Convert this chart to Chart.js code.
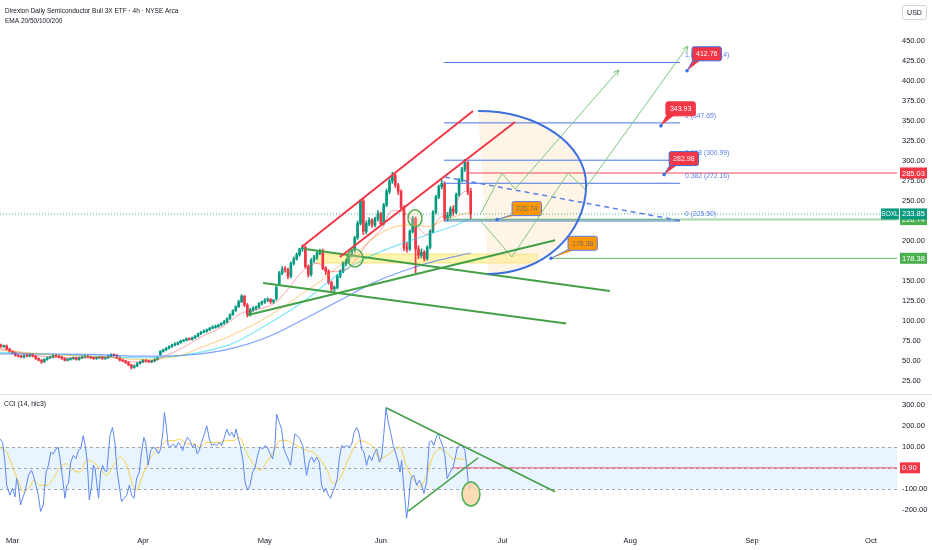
<!DOCTYPE html>
<html><head><meta charset="utf-8">
<script src="https://cdn.jsdelivr.net/npm/chart.js@4.4.1/dist/chart.umd.min.js"></script>
<style>
html,body{margin:0;padding:0;background:#fff;overflow:hidden}
#wrap{position:relative;width:932px;height:550px;background:#fff}
#c1{position:absolute;left:0;top:0}
#c2{position:absolute;left:0;top:394px}
</style></head><body>
<div id="wrap"><canvas id="c1" width="932" height="394"></canvas><canvas id="c2" width="932" height="156"></canvas></div>
<script>
// ---------------- DATA ----------------
const firstBar = -8; // bar index of first candle (2 bars per trading day, Mar 3 = 0)
const opens = [71,70,68,69,65,62,60,57,
 56,55,57,56,58,56,53,51, 49,52,54,55,57,56,55,53, 51,52,53,54,52,54,55,56, 55,54,53,54,55,53,54,56,
 58,57,54,51,50,48,45,42, 44,47,49,51,50,49,50,52, 58,62,64,66,68,70,71,73, 75,76,78,77,79,81,84,86,
 87,89,91,92,93,95,97,99, 103,108,113,118,124,131,120,108, 114,116,117,122,124,126,127,124,
 128,146,160,165,164,156,172,178, 183,190,192,168,158,176,180,185, 188,166,162,148,140,142,156,162,
 172,174,182,188,204,222,250,212, 222,226,220,228,234,222,245,262, 275,282,270,262,242,192,190,212,
 228,190,182,186,178,192,212,236, 255,268,272,228,232,240,236,258, 276,290,298,262];
const highs = [73,71,70,70,66,63,61,58,
 57,58,58,59,59,57,54,52, 53,55,56,58,58,57,56,54, 53,54,55,55,55,56,57,57, 56,55,55,56,56,55,57,59,
 59,58,55,52,51,49,46,45, 48,50,52,52,51,51,53,55, 63,65,67,69,71,73,74,76, 77,79,79,80,82,85,87,89,
 90,92,94,95,96,98,101,104, 109,114,119,126,133,132,122,116, 118,119,123,125,128,129,128,127,
 144,162,168,168,166,174,180,185, 191,195,194,170,178,182,187,190, 190,168,164,150,144,158,164,174,
 177,184,190,206,225,252,252,225, 229,228,230,238,236,247,265,278, 286,284,272,264,244,198,214,231,
 230,194,190,188,194,214,238,257, 270,276,274,236,243,244,260,278, 292,302,300,266];
const lows = [69,67,67,64,61,59,56,55,
 54,54,55,55,55,52,50,47, 48,51,53,54,55,54,52,50, 50,51,52,51,51,53,54,54, 53,52,52,53,52,52,53,55,
 56,53,50,49,47,44,40,41, 43,46,48,49,48,48,49,51, 57,61,63,65,67,69,70,72, 74,75,76,76,78,80,83,85,
 86,88,90,91,92,94,96,98, 102,107,112,117,123,118,105,106, 112,114,116,120,122,124,122,122,
 126,144,158,161,153,154,170,176, 181,187,166,155,156,173,177,183, 164,158,146,137,137,140,154,160,
 169,172,180,186,202,220,208,209, 219,217,218,225,219,220,243,259, 272,267,258,240,188,186,188,210,
 160,178,179,175,176,190,210,234, 253,265,225,225,229,232,234,256, 274,287,258,228];
const closes = [70,68,69,65,62,60,57,56,
 55,57,56,58,56,53,51,49, 52,54,55,57,56,55,53,51, 52,53,54,52,54,55,56,55, 54,53,54,55,53,54,56,58,
 57,54,51,50,48,45,42,44, 47,49,51,50,49,50,52,54, 62,64,66,68,70,71,73,75, 76,78,77,79,81,84,86,87,
 89,91,92,93,95,97,99,103, 108,113,118,124,131,120,108,114, 116,117,122,124,126,127,124,126,
 142,160,165,164,156,172,178,183, 190,192,168,158,176,180,185,188, 166,162,148,140,142,156,162,172,
 174,182,188,204,222,250,212,222, 226,220,228,234,222,245,262,275, 282,270,262,242,192,190,212,228,
 190,182,186,178,192,212,236,255, 268,272,228,232,240,236,258,276, 290,298,262,233.85];

const ema20 = [[-8,66],[0,60],[10,55],[20,54],[30,55],[38,49],[44,49],[50,57],[56,67],[62,80],[70,94],[76,110],[80,113],[88,124],[92,140],[97,162],[102,172],[107,162],[112,164],[116,180],[120,200],[124,214],[128,238],[132,236],[136,220],[140,208],[144,228],[148,236],[153,262],[155,256]];
const ema50 = [[-8,64],[10,58],[30,55],[40,52],[48,53],[56,58],[62,67],[70,78],[76,88],[82,99],[88,112],[96,132],[104,152],[110,170],[116,186],[122,205],[129,218],[135,220],[140,218],[147,228],[155,236]];
const ema100 = [[-8,61],[20,57],[40,54],[50,55],[62,61],[73,72],[85,96],[98,126],[110,160],[121,182],[133,199],[142,210],[150,220],[155,228]];
const ema200 = [[-8,59],[27,58],[39,56],[48,56],[62,59],[73,66],[85,80],[99,105],[110,126],[121,147],[133,164],[144,176],[155,185]];

const cci = [[-7.3,138],[-6.4,122],[-5.6,28],[-5.0,-82],[-3.9,-129],[-3.0,-97],[-2.1,-137],[-1.6,-50],[-1.0,-82],[-0.2,-176],[0.5,-144],[1.3,-113],[2.5,-35],[3.6,-11],[4.2,-35],[5.1,-82],[5.9,-129],[6.7,-207],[7.6,-176],[8.6,-19],[9.4,13],[10.2,75],[11.1,68],[12.0,91],[12.8,99],[13.4,44],[14.3,-50],[15.1,-144],[15.7,-82],[16.3,-74],[17.1,28],[18.0,60],[18.9,44],[19.7,83],[20.5,91],[21.4,154],[22.1,107],[22.8,28],[23.5,-152],[24.3,-82],[24.9,13],[25.5,-3],[26.0,-66],[26.7,-144],[27.4,-19],[28.1,13],[28.7,-11],[29.5,-19],[30.6,154],[31.5,193],[32.3,122],[33.1,-19],[33.8,-82],[34.6,-160],[35.5,-144],[36.4,-129],[37.3,-82],[38.1,-129],[38.9,-144],[39.8,-50],[40.7,-19],[41.5,75],[42.3,146],[43.0,115],[43.8,13],[44.6,83],[45.6,99],[46.5,91],[47.3,68],[48.1,91],[48.8,162],[49.4,264],[50.0,201],[50.7,107],[51.5,99],[52.5,115],[53.4,99],[54.2,122],[55.0,107],[55.7,83],[56.5,122],[57.3,146],[58.2,130],[59.1,99],[59.9,115],[60.7,68],[61.4,83],[62.2,122],[63.0,154],[64.0,201],[64.9,138],[65.7,107],[66.5,115],[67.4,107],[68.3,122],[69.1,107],[69.9,138],[70.9,185],[71.8,154],[72.6,170],[73.4,146],[74.1,185],[74.9,138],
[75.5,107],[76.4,44],[77.2,-66],[78.0,-105],[78.9,-82],[79.8,-19],[80.6,-3],[81.4,52],[82.3,99],[83.3,91],[84.1,107],[84.9,99],[85.8,68],[86.7,44],[87.5,107],[88.1,256],[89.0,217],[89.8,185],[90.6,91],[91.5,60],[92.5,28],[92.9,13],[93.6,91],[94.4,162],[95.2,154],[96.1,138],[97.1,107],[97.9,13],[98.4,-35],[99.4,36],[100.2,52],[101.0,28],[101.9,52],[102.8,28],[103.6,-82],[104.4,-113],[105.1,-97],[105.9,-129],[106.7,-144],[107.4,-113],[108.2,-90],[109.0,-50],[109.7,44],[110.5,107],[111.3,99],[112.2,107],[113.2,99],[114.0,115],[114.8,170],[115.7,193],[116.6,162],[117.4,91],[118.2,75],[119.1,13],[120.0,60],[120.9,36],[121.7,68],[122.6,91],[123.5,28],[124.3,52],[125.1,170],[125.8,287],[126.6,217],[127.4,170],[128.3,107],[129.2,68],[130.0,28],[130.6,-19],[131.2,36],[131.8,-66],[132.4,-160],[132.9,-239],[133.5,-176],[134.1,-82],[134.6,-42],[135.4,-35],[136.4,-82],[137.3,-58],[138.1,-82],[138.9,-121],[139.8,-66],[140.7,122],[141.5,130],[142.3,107],[143.3,154],[143.8,162],[144.4,138],[145.3,107],[146.1,60],[146.9,-50],[147.9,-19],[148.8,-3],[149.6,44],[150.4,99],[151.3,107],[152.2,107],[153.0,83],[153.6,13],[154.2,-74],[154.8,-97]];
const cciMa = [[-7.3,99],[-5.0,75],[-2.7,-3],[-0.4,-82],[0.7,-113],[3.0,-90],[4.2,-58],[6.5,-82],[8.8,-82],[11.1,-50],[13.4,5],[15.7,20],[18.0,-11],[20.3,-19],[22.6,36],[24.9,28],[27.2,-3],[29.5,-35],[31.8,13],[34.1,52],[36.4,13],[38.1,-66],[39.8,-105],[41.5,-50],[43.3,13],[45.6,68],[47.9,99],[50.2,130],[52.5,130],[54.8,138],[57.1,115],[59.4,115],[61.7,99],[64.0,122],[66.3,122],[68.5,122],[70.9,130],[73.1,130],[75.2,146],[77.7,75],[80.0,20],[82.3,-11],[84.6,28],[86.9,75],[89.2,130],[91.5,130],[93.8,115],[96.1,99],[98.4,83],[100.7,75],[103.0,44],[105.3,-3],[107.6,-74],[109.9,-50],[112.2,20],[114.5,91],[116.8,130],[119.1,122],[121.4,99],[123.7,44],[126.0,60],[128.3,83],[130.6,99],[132.9,5],[135.2,-50],[137.5,-90],[139.8,-35],[142.1,60],[144.4,91],[146.7,75],[149.0,44],[151.3,44],[153.6,36]];

const monthTickBars = [-3, 42, 84, 124, 166, 210, 252, 293];
const monthLabels = ['Mar','Apr','May','Jun','Jul','Aug','Sep','Oct'];
const priceTicks = [25,50,75,100,125,150,175,200,225,250,275,300,325,350,375,400,425,450];
const cciTicks = [-200,-100,100,200,300];
const xRange = [-7.3, 302];
const priceRange = [8.75, 501.25];
const cciRange = [-295, 347.6];

const lastPrice = 233.85;
const fibLevels = [0, 0.382, 0.618, 1, 1.618];
const fibPrices = [225.50, 272.16, 300.99, 347.65, 423.14];
const fibSpan = [145.8, 227.2];
const redChannelUpper = [[96.7,192.5],[155.8,362.5]];
const redChannelLower = [[109.9,180],[170.3,348.75]];
const greenTrendUpper = [[97.9,190],[203,137.5]];
const greenTrendLower = [[83.4,147.5],[187.9,96.8]];
const greenTrendRising = [[78.2,107.5],[184.1,201]];
const blueDashed = [[146.1,280],[227.2,225.4]];
const projectionA = [[158.2,232.5],[165.8,285],[170.3,265],[206.1,413.75]];
const projectionB = [[158.2,226.25],[169.2,180],[188.6,285],[194.4,265],[229.9,443.75]];
const arcTop = [157.55,362.5], arcRight = [194.8,270], arcBottom = [161.0,158.75];
const yellowBand = [102, 177.9, 172.5, 183.75];
const circleMarks = [[115.1,178.75],[135.8,228.4]];
const redLevel = [154, 285.03];
const greenLevelA = [147.2, 226.74];
const greenLevelB = [182.7, 178.38];
const calloutBars = [229.6, 220.6, 221.7, 164.1, 182.7];
const calloutPrices = [412.76, 343.93, 282.98, 226.74, 178.38];
const calloutTexts = ['412.76','343.93','282.98','226.74','178.38'];
const cciGreenUpper = [[125.8,287],[184.1,-113]];
const cciGreenLower = [[133.5,-205],[157.6,49]];
const cciRedLevel = [148.9, 0.90];
const cciCircle = [155.1, -124];

// ---------------- STYLE ----------------
const FONT = "'Liberation Sans', Arial, sans-serif";
const UP = '#089981', DOWN = '#f23645';
const calloutStyle = [
  {dx:5, dy:-24, bg:'#f23645', fg:'#ffffff', bd:'#3d6fe0'},
  {dx:5, dy:-24, bg:'#f23645', fg:'#ffffff', bd:'#f23645'},
  {dx:5, dy:-23, bg:'#f23645', fg:'#ffffff', bd:'#3d6fe0'},
  {dx:15, dy:-18, bg:'#ff9800', fg:'#6a6d78', bd:'#5b7fe6'},
  {dx:17, dy:-22, bg:'#ff9800', fg:'#6a6d78', bd:'#5b7fe6'}
];
const barX = closes.map((_, i) => firstBar + i);
const candleCol = closes.map((c, i) => c >= opens[i] ? UP : DOWN);

function X(c, b){ return c.scales.x.getPixelForValue(b); }
function Y(c, v){ return c.scales.y.getPixelForValue(v); }
function noPad(s){ s.paddingTop = 0; s.paddingBottom = 0; s.paddingLeft = 0; s.paddingRight = 0; }
function lineDs(points, color, width, dash, order){
  return {type:'line', data: points.map(p => ({x:p[0], y:p[1]})), borderColor: color, borderWidth: width,
    borderDash: dash || [], pointRadius: 0, fill: false, tension: 0, order: order === undefined ? 1 : order};
}
function smoothDs(points, color, width, order, smooth){
  const d = lineDs(points, color, width, [], order);
  if (smooth) d.cubicInterpolationMode = 'monotone';
  return d;
}
function arcPath(c, ctx, close){
  const k = 0.552;
  const T = [X(c,arcTop[0]), Y(c,arcTop[1])], R = [X(c,arcRight[0]), Y(c,arcRight[1])], B = [X(c,arcBottom[0]), Y(c,arcBottom[1])];
  ctx.beginPath(); ctx.moveTo(T[0], T[1]);
  ctx.bezierCurveTo(T[0] + k*(R[0]-T[0]), T[1], R[0], R[1] - k*(R[1]-T[1]), R[0], R[1]);
  ctx.bezierCurveTo(R[0], R[1] + k*(B[1]-R[1]), B[0] + k*(R[0]-B[0]), B[1], B[0], B[1]);
  if (close) ctx.closePath();
}
function arrowHead(ctx, p1, p2, color){
  const a = Math.atan2(p2[1]-p1[1], p2[0]-p1[0]), L = 6;
  ctx.strokeStyle = color; ctx.lineWidth = 1; ctx.beginPath();
  ctx.moveTo(p2[0] - L*Math.cos(a-0.45), p2[1] - L*Math.sin(a-0.45));
  ctx.lineTo(p2[0], p2[1]);
  ctx.lineTo(p2[0] - L*Math.cos(a+0.45), p2[1] - L*Math.sin(a+0.45));
  ctx.stroke();
}
function rrect(ctx, x, y, w, h, r){
  ctx.beginPath(); ctx.moveTo(x+r, y); ctx.lineTo(x+w-r, y); ctx.quadraticCurveTo(x+w, y, x+w, y+r);
  ctx.lineTo(x+w, y+h-r); ctx.quadraticCurveTo(x+w, y+h, x+w-r, y+h); ctx.lineTo(x+r, y+h);
  ctx.quadraticCurveTo(x, y+h, x, y+h-r); ctx.lineTo(x, y+r); ctx.quadraticCurveTo(x, y, x+r, y); ctx.closePath();
}
function axisBox(c, ctx, val, text, bg, fg){
  const y = Y(c, val), x = c.chartArea.right + 3;
  ctx.fillStyle = bg; ctx.fillRect(x, y-5.5, 27, 11);
  ctx.fillStyle = fg; ctx.font = '7.5px ' + FONT; ctx.textAlign = 'left'; ctx.textBaseline = 'middle';
  ctx.fillText(text, x + 2, y + 0.5);
}

const mainDecor = {
  id: 'mainDecor',
  beforeDatasetsDraw(c){
    const ctx = c.ctx, ca = c.chartArea;
    ctx.save();
    ctx.beginPath(); ctx.rect(ca.left, ca.top, ca.right-ca.left, ca.bottom-ca.top); ctx.clip();
    const x1 = X(c, yellowBand[0]), x2 = X(c, yellowBand[1]), y1 = Y(c, yellowBand[3]), y2 = Y(c, yellowBand[2]);
    ctx.fillStyle = 'rgba(255,235,80,0.45)'; ctx.fillRect(x1, y1, x2-x1, y2-y1);
    ctx.strokeStyle = 'rgba(250,200,40,0.5)'; ctx.lineWidth = 1; ctx.strokeRect(x1, y1, x2-x1, y2-y1);
    arcPath(c, ctx, true); ctx.fillStyle = 'rgba(255,226,185,0.35)'; ctx.fill();
    ctx.restore();
  },
  afterDatasetsDraw(c){
    const ctx = c.ctx;
    ctx.save();
    arcPath(c, ctx, false); ctx.strokeStyle = '#3d6fe0'; ctx.lineWidth = 2; ctx.stroke();
    const radii = [[8,9],[7,8.5]];
    circleMarks.forEach((m, i) => {
      ctx.beginPath(); ctx.ellipse(X(c,m[0]), Y(c,m[1]), radii[i][0], radii[i][1], 0, 0, Math.PI*2);
      ctx.fillStyle = 'rgba(255,220,170,0.3)'; ctx.fill();
      ctx.strokeStyle = '#4caf50'; ctx.lineWidth = 1.5; ctx.stroke();
    });
    [projectionA, projectionB].forEach(p => {
      const a = p[p.length-2], b = p[p.length-1];
      arrowHead(ctx, [X(c,a[0]), Y(c,a[1])], [X(c,b[0]), Y(c,b[1])], '#7cc47f');
    });
    ctx.font = '6.8px ' + FONT; ctx.textAlign = 'left'; ctx.textBaseline = 'alphabetic';
    ctx.fillStyle = '#5b7fe6';
    fibLevels.forEach((lv, i) => {
      ctx.fillText(String(lv) + ' (' + fibPrices[i].toFixed(2) + ')', X(c, fibSpan[1]) + 5, Y(c, fibPrices[i]) - 5);
    });
    calloutBars.forEach((b, i) => {
      const st = calloutStyle[i];
      const ax = X(c, b), ay = Y(c, calloutPrices[i]);
      ctx.font = '7px ' + FONT;
      const w = ctx.measureText(calloutTexts[i]).width + 8, h = 14;
      const bx = ax + st.dx, by = ay + st.dy;
      ctx.fillStyle = st.bg; ctx.beginPath(); ctx.moveTo(ax, ay); ctx.lineTo(bx+2, by+h-2); ctx.lineTo(bx+9, by+h-1); ctx.closePath(); ctx.fill();
      ctx.strokeStyle = st.bd; ctx.lineWidth = 1; ctx.beginPath(); ctx.moveTo(ax, ay); ctx.lineTo(bx+1, by+h-1); ctx.stroke();
      rrect(ctx, bx, by, w, h, 2); ctx.fillStyle = st.bg; ctx.fill(); ctx.strokeStyle = st.bd; ctx.stroke();
      ctx.fillStyle = st.fg; ctx.textAlign = 'center'; ctx.textBaseline = 'middle';
      ctx.fillText(calloutTexts[i], bx + w/2, by + h/2 + 0.5);
      ctx.beginPath(); ctx.arc(ax, ay, 1.8, 0, Math.PI*2); ctx.fillStyle = '#3d6fe0'; ctx.fill();
      ctx.textAlign = 'left';
    });
    ctx.restore();
  },
  afterDraw(c){
    const ctx = c.ctx, ca = c.chartArea;
    ctx.save();
    axisBox(c, ctx, redLevel[1], redLevel[1].toFixed(2), '#f23645', '#fff');
    axisBox(c, ctx, greenLevelA[1], greenLevelA[1].toFixed(2), '#4caf50', '#fff');
    axisBox(c, ctx, lastPrice, lastPrice.toFixed(2), '#089981', '#fff');
    axisBox(c, ctx, greenLevelB[1], greenLevelB[1].toFixed(2), '#4caf50', '#fff');
    const ly = Y(c, lastPrice);
    ctx.fillStyle = '#089981'; ctx.fillRect(ca.right - 16, ly - 5.5, 18, 11);
    ctx.fillStyle = '#fff'; ctx.font = '6.5px ' + FONT; ctx.textAlign = 'center'; ctx.textBaseline = 'middle';
    ctx.fillText('SOXL', ca.right - 7, ly + 0.5);
    rrect(ctx, 902.5, 5.5, 24, 14, 2); ctx.fillStyle = '#fff'; ctx.fill(); ctx.strokeStyle = '#d1d4dc'; ctx.lineWidth = 1; ctx.stroke();
    ctx.fillStyle = '#131722'; ctx.font = '7px ' + FONT; ctx.fillText('USD', 914.5, 12.8);
    ctx.textAlign = 'left'; ctx.textBaseline = 'alphabetic';
    ctx.font = '6.5px ' + FONT; ctx.fillStyle = '#131722';
    ctx.fillText('Direxion Daily Semiconductor Bull 3X ETF \u00b7 4h \u00b7 NYSE Arca', 5, 13);
    ctx.fillText('EMA 20/50/100/200', 5, 23);
    ctx.restore();
  }
};

const mainSets = [
  {type:'bar', data: barX.map((b,i) => ({x:b, y:[lows[i], highs[i]]})), backgroundColor: candleCol, barThickness: 1, grouped: false, order: 8},
  {type:'bar', data: barX.map((b,i) => ({x:b, y:[opens[i], closes[i]]})), backgroundColor: candleCol, barThickness: 2, grouped: false, minBarLength: 1, order: 7},
  smoothDs(ema20, 'rgba(242,54,69,0.45)', 1, 6, true),
  smoothDs(ema50, 'rgba(255,152,0,0.5)', 1, 6, true),
  smoothDs(ema100, 'rgba(0,210,240,0.5)', 1.2, 6, true),
  smoothDs(ema200, 'rgba(41,98,255,0.6)', 1.2, 6, true),
  lineDs([[xRange[0], lastPrice],[xRange[1], lastPrice]], 'rgba(8,153,129,0.75)', 1, [1,2], 5),
  lineDs([[fibSpan[0], fibPrices[0]],[fibSpan[1], fibPrices[0]]], 'rgba(61,111,224,0.45)', 3, [], 4),
  lineDs([[greenLevelA[0], greenLevelA[1]],[xRange[1], greenLevelA[1]]], 'rgba(76,175,80,0.5)', 2, [], 3),
  lineDs([[greenLevelB[0], greenLevelB[1]],[xRange[1], greenLevelB[1]]], 'rgba(76,175,80,0.7)', 1.2, [], 3),
  lineDs([[redLevel[0], redLevel[1]],[xRange[1], redLevel[1]]], 'rgba(242,54,69,0.45)', 2, [], 3),
  ...fibPrices.slice(1).map(p => lineDs([[fibSpan[0], p],[fibSpan[1], p]], '#4a74e8', 1, [], 3)),
  lineDs(blueDashed, '#5b7fe6', 1.5, [5,4], 2),
  lineDs(redChannelUpper, '#f23645', 2, [], 1),
  lineDs(redChannelLower, '#f23645', 2, [], 1),
  lineDs(greenTrendUpper, '#43a047', 2, [], 1),
  lineDs(greenTrendLower, '#43a047', 2, [], 1),
  lineDs(greenTrendRising, '#43a047', 2, [], 1),
  lineDs(projectionA, '#7cc47f', 1, [], 1),
  lineDs(projectionB, '#7cc47f', 1, [], 1)
];

new Chart(document.getElementById('c1'), {
  type: 'bar',
  data: { datasets: mainSets },
  options: {
    responsive: false, animation: false, events: [],
    layout: { padding: 0, autoPadding: false },
    plugins: { legend: { display: false }, tooltip: { enabled: false } },
    scales: {
      x: { type: 'linear', min: xRange[0], max: xRange[1], display: false, offset: false, grid: { display: false, drawTicks: false } },
      y: { type: 'linear', position: 'right', min: priceRange[0], max: priceRange[1],
        grid: { display: false, drawTicks: false }, border: { display: false },
        afterFit: s => { s.width = 35; noPad(s); },
        afterBuildTicks: s => { s.ticks = priceTicks.map(v => ({ value: v })); },
        ticks: { padding: 5, color: '#131722', font: { family: FONT, size: 7.5 }, callback: v => Number(v).toFixed(2) } }
    }
  },
  plugins: [mainDecor]
});

const cciDecor = {
  id: 'cciDecor',
  beforeDatasetsDraw(c){
    const ctx = c.ctx, ca = c.chartArea;
    ctx.save();
    const y1 = Y(c, 100), y2 = Y(c, -100);
    ctx.fillStyle = 'rgba(33,150,243,0.1)'; ctx.fillRect(ca.left, y1, ca.right - ca.left, y2 - y1);
    ctx.strokeStyle = '#a3a6af'; ctx.lineWidth = 1; ctx.setLineDash([3,3]);
    [100, 0, -100].forEach(v => { const y = Math.round(Y(c, v)) + 0.5; ctx.beginPath(); ctx.moveTo(ca.left, y); ctx.lineTo(ca.right, y); ctx.stroke(); });
    ctx.restore();
  },
  afterDatasetsDraw(c){
    const ctx = c.ctx;
    ctx.save();
    ctx.beginPath(); ctx.ellipse(X(c, cciCircle[0]), Y(c, cciCircle[1]), 9, 12, 0, 0, Math.PI*2);
    ctx.fillStyle = 'rgba(252,210,160,0.75)'; ctx.fill(); ctx.strokeStyle = '#4caf50'; ctx.lineWidth = 1.5; ctx.stroke();
    ctx.fillStyle = '#131722'; ctx.font = '6.8px ' + FONT; ctx.textAlign = 'left'; ctx.textBaseline = 'alphabetic';
    ctx.fillText('CCI (14, hlc3)', 4, 12);
    ctx.restore();
  },
  afterDraw(c){
    const ctx = c.ctx;
    ctx.save();
    const y = Y(c, cciRedLevel[1]), x = c.chartArea.right + 3;
    ctx.fillStyle = '#f23645'; ctx.fillRect(x, y - 5.5, 20, 11);
    ctx.fillStyle = '#fff'; ctx.font = '7.5px ' + FONT; ctx.textAlign = 'left'; ctx.textBaseline = 'middle';
    ctx.fillText(cciRedLevel[1].toFixed(2), x + 2, y + 0.5);
    ctx.strokeStyle = '#e0e3eb'; ctx.lineWidth = 1; ctx.beginPath(); ctx.moveTo(0, 0.5); ctx.lineTo(c.width, 0.5); ctx.stroke();
    ctx.restore();
  }
};

new Chart(document.getElementById('c2'), {
  type: 'line',
  data: { datasets: [
    smoothDs(cci, '#5d87f2', 1, 3, false),
    smoothDs(cciMa, '#f5cf47', 1, 4, true),
    lineDs([[cciRedLevel[0], cciRedLevel[1]],[xRange[1], cciRedLevel[1]]], 'rgba(242,54,69,0.55)', 1.5, [], 2),
    lineDs(cciGreenUpper, '#43a047', 1.5, [], 1),
    lineDs(cciGreenLower, '#43a047', 1.5, [], 1)
  ]},
  options: {
    responsive: false, animation: false, events: [],
    layout: { padding: { top: 1, left: 0, right: 0, bottom: 0 }, autoPadding: false },
    plugins: { legend: { display: false }, tooltip: { enabled: false } },
    scales: {
      x: { type: 'linear', min: xRange[0], max: xRange[1], offset: false,
        grid: { display: false, drawTicks: false }, border: { display: false },
        afterFit: s => { s.height = 20; noPad(s); },
        afterBuildTicks: s => { s.ticks = monthTickBars.map(v => ({ value: v })); },
        ticks: { autoSkip: false, maxRotation: 0, padding: 6, color: '#131722', font: { family: FONT, size: 7.5 },
          callback: v => monthLabels[monthTickBars.indexOf(v)] } },
      y: { type: 'linear', position: 'right', min: cciRange[0], max: cciRange[1],
        grid: { display: false, drawTicks: false }, border: { display: false },
        afterFit: s => { s.width = 35; noPad(s); },
        afterBuildTicks: s => { s.ticks = cciTicks.map(v => ({ value: v })); },
        ticks: { padding: 5, color: '#131722', font: { family: FONT, size: 7.5 }, callback: v => Number(v).toFixed(2) } }
    }
  },
  plugins: [cciDecor]
});
</script>
</body></html>
